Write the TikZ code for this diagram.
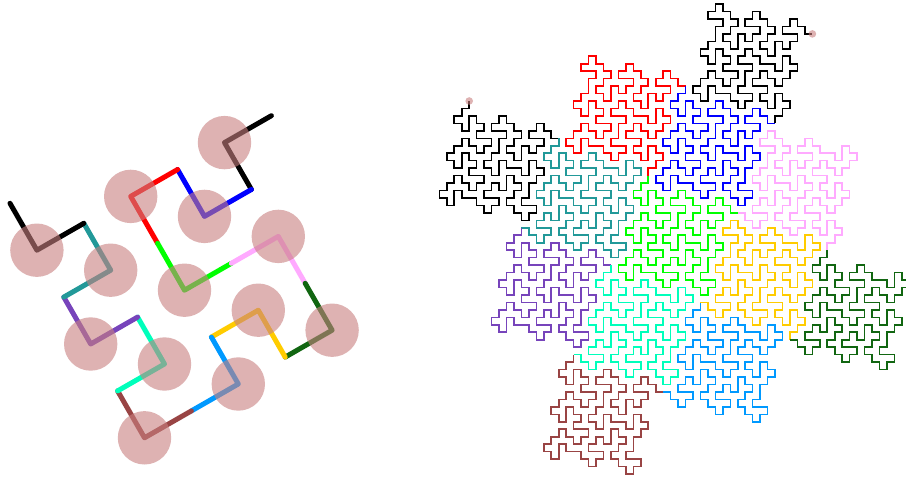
\documentclass[tikz,border=0pt]{standalone}
\definecolor{cteal}{HTML}{229999}
\definecolor{cpurple}{HTML}{7744BB}
\definecolor{ccyan}{HTML}{00FFBB}
\definecolor{cbrown}{HTML}{994444}
\definecolor{clblue}{HTML}{0099FF}
\definecolor{cgold}{HTML}{FFCC00}
\definecolor{cdgreen}{HTML}{116611}
\definecolor{cpink}{HTML}{FFAAFF}
\definecolor{cgreen}{HTML}{00FF00}
\definecolor{cred}{HTML}{FF0000}
\definecolor{cblue}{HTML}{0000FF}
\definecolor{cblack}{HTML}{000000}
\definecolor{cdot}{RGB}{200,128,128}
\newcount\curx \newcount\cury \newcount\curh \newcount\curt
\def\unitlen{7.46pt}
\def\curpt{\pgfpoint{\dimexpr469.2pt+\unitlen*\curx\relax}{\dimexpr-101pt+\unitlen*\cury\relax}}
\def\leafstep#1{%
  \global\curh=\numexpr#1+400\relax
  \curt=\curh \divide\curt by 4 \multiply\curt by 4
  \global\advance\curh by -\curt
  \ifcase\curh \global\advance\curx by 1
  \or \global\advance\cury by 1
  \or \global\advance\curx by -1
  \or \global\advance\cury by -1
  \fi
  \pgfpathlineto{\curpt}}
\def\fwdc#1#2{\ifnum\numexpr#1\relax=0 \leafstep{#2}\else\fwdbody{#1-1}{#2}\fi}
\def\bwdc#1#2{\ifnum\numexpr#1\relax=0 \leafstep{#2}\else\bwdbody{#1-1}{#2}\fi}
\def\fwdbody#1#2{%
  \fwdc{#1}{#2+0}\bwdc{#1}{#2-1}\fwdc{#1}{#2+0}\bwdc{#1}{#2-1}\fwdc{#1}{#2+0}%
  \fwdc{#1}{#2+1}\bwdc{#1}{#2+0}\fwdc{#1}{#2+1}\fwdc{#1}{#2+2}\bwdc{#1}{#2+2}%
  \bwdc{#1}{#2+1}\fwdc{#1}{#2+0}\bwdc{#1}{#2+1}}
\def\bwdbody#1#2{%
  \fwdc{#1}{#2+1}\bwdc{#1}{#2+0}\fwdc{#1}{#2+1}\fwdc{#1}{#2+2}\bwdc{#1}{#2+2}%
  \bwdc{#1}{#2+1}\fwdc{#1}{#2+0}\bwdc{#1}{#2+1}\bwdc{#1}{#2+0}\fwdc{#1}{#2-1}%
  \bwdc{#1}{#2+0}\fwdc{#1}{#2-1}\bwdc{#1}{#2+0}}
% one coloured part of the fine curve: colour, traversal macro, heading
\def\finepart#1#2#3{%
  \begin{pgfscope}
    \pgfsetstrokecolor{#1}\pgfsetlinewidth{1.6pt}\pgfsetmiterjoin\pgfsetbuttcap
    \pgfpathmoveto{\curpt}#2{2}{#3}\pgfusepath{stroke}
  \end{pgfscope}}
\tikzset{
  coarse/.style={line width=5pt,line cap=round,line join=round},
  bigdot/.style={circle,draw=none,fill=cdot,fill opacity=.6,inner sep=0pt,minimum size=53.4pt},
  enddot/.style={circle,draw=none,fill=cdot,fill opacity=.6,inner sep=0pt,minimum size=7.6pt}
}
\begin{document}
\begin{tikzpicture}[x=1pt,y=-1pt]
\useasboundingbox (0,0) rectangle (906,479);
\fill[white] (0,0) rectangle (906,479);
\coordinate (p0) at (10,203.3);
\coordinate (p1) at (36.9,250.2);
\coordinate (p2) at (83.8,223.3);
\coordinate (p3) at (110.7,270.2);
\coordinate (p4) at (63.8,297.1);
\coordinate (p5) at (90.7,344);
\coordinate (p6) at (137.6,317.1);
\coordinate (p7) at (164.5,364);
\coordinate (p8) at (117.6,390.9);
\coordinate (p9) at (144.5,437.8);
\coordinate (p10) at (191.4,410.9);
\coordinate (p11) at (238.3,384);
\coordinate (p12) at (211.4,337.1);
\coordinate (p13) at (258.3,310.2);
\coordinate (p14) at (285.2,357.1);
\coordinate (p15) at (332.1,330.2);
\coordinate (p16) at (305.2,283.3);
\coordinate (p17) at (278.3,236.4);
\coordinate (p18) at (231.4,263.3);
\coordinate (p19) at (184.5,290.2);
\coordinate (p20) at (157.6,243.3);
\coordinate (p21) at (130.7,196.4);
\coordinate (p22) at (177.6,169.5);
\coordinate (p23) at (204.5,216.4);
\coordinate (p24) at (251.4,189.5);
\coordinate (p25) at (224.5,142.6);
\coordinate (p26) at (271.4,115.7);
\draw[coarse,cblack] (p24) -- (p25) -- (p26);
\draw[coarse,cblue] (p22) -- (p23) -- (p24);
\draw[coarse,cred] (p20) -- (p21) -- (p22);
\draw[coarse,cgreen] (p18) -- (p19) -- (p20);
\draw[coarse,cpink] (p16) -- (p17) -- (p18);
\draw[coarse,cdgreen] (p14) -- (p15) -- (p16);
\draw[coarse,cgold] (p12) -- (p13) -- (p14);
\draw[coarse,clblue] (p10) -- (p11) -- (p12);
\draw[coarse,cbrown] (p8) -- (p9) -- (p10);
\draw[coarse,ccyan] (p6) -- (p7) -- (p8);
\draw[coarse,cpurple] (p4) -- (p5) -- (p6);
\draw[coarse,cteal] (p2) -- (p3) -- (p4);
\draw[coarse,cblack] (p0) -- (p1) -- (p2);
\foreach \k in {1,3,5,7,9,11,13,15,17,19,21,23,25}
  \node[bigdot] (c\k) at (p\k) {};
% the fine curve
\global\curx=0 \global\cury=0
\finepart{cblack}{\fwdc}{-1}
\finepart{cteal}{\bwdc}{-2}
\finepart{cpurple}{\fwdc}{-1}
\finepart{ccyan}{\bwdc}{-2}
\finepart{cbrown}{\fwdc}{-1}
\finepart{clblue}{\fwdc}{0}
\finepart{cgold}{\bwdc}{-1}
\finepart{cdgreen}{\fwdc}{0}
\finepart{cpink}{\fwdc}{1}
\finepart{cgreen}{\bwdc}{1}
\finepart{cred}{\bwdc}{0}
\finepart{cblue}{\fwdc}{-1}
\finepart{cblack}{\bwdc}{0}
\node[enddot] (startdot) at (469.2,101) {};
\node[enddot] (enddot1) at (812.4,33.9) {};
\end{tikzpicture}
\end{document}
